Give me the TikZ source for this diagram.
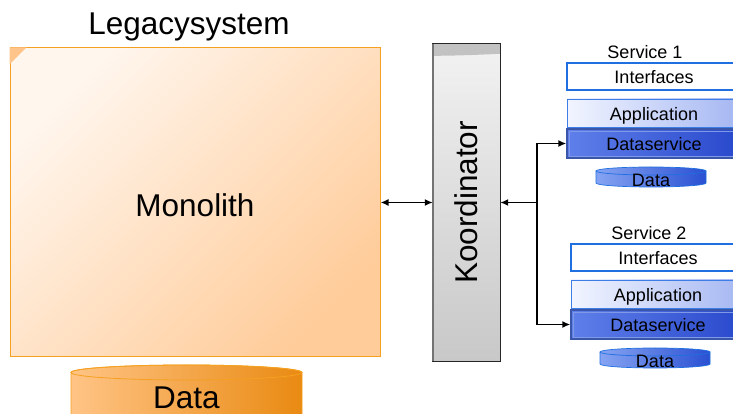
\documentclass[tikz,border=0pt]{standalone}
\usepackage{fontspec}
\setmainfont{Liberation Sans}
\usetikzlibrary{arrows.meta}
\usetikzlibrary{calc}

\definecolor{legacyline}{HTML}{F5A020}
\definecolor{legacylight}{HTML}{FFF6EE}
\definecolor{legacydark}{HTML}{FFCC9A}
\definecolor{legacycorner}{HTML}{FFC48A}
\definecolor{dataleft}{HTML}{FFC486}
\definecolor{dataright}{HTML}{E98A12}
\definecolor{kbandgray}{HTML}{C2C2C2}
\definecolor{ktop}{HTML}{F2F2F2}
\definecolor{kbottom}{HTML}{C8C8C8}
\definecolor{ifline}{HTML}{1F6FE0}
\definecolor{appline}{HTML}{3C7DE6}
\definecolor{appleft}{HTML}{F2F5FF}
\definecolor{appright}{HTML}{A4B6F2}
\definecolor{dsline}{HTML}{3A56A8}
\definecolor{dsinner}{HTML}{8098E8}
\definecolor{dsleft}{HTML}{5F7FEA}
\definecolor{dsright}{HTML}{2848CC}
\definecolor{diskleft}{HTML}{86A4F2}
\definecolor{diskright}{HTML}{2A50D2}

\tikzset{
  bigtext/.style={font=\fontsize{31.5}{36}\selectfont},
  smalltext/.style={font=\fontsize{18}{20}\selectfont},
  layer/.style={smalltext, minimum width=174pt, inner sep=0pt, text height=15.5pt, text depth=1pt},
  ifbox/.style={layer, draw=ifline, fill=white, line width=1.3pt, minimum height=27pt},
  appbox/.style={layer, draw=appline, left color=appleft, right color=appright, line width=0.9pt, minimum height=28pt},
  dsbox/.style={layer, draw=dsline, left color=dsleft, right color=dsright, line width=1.3pt, minimum height=29pt},
  dsrim/.style={dsinner, line width=0.6pt},
  tip/.style={-{Latex[length=8pt, width=7pt]}},
  link/.style={line width=1.8pt, {Latex[length=8pt, width=7pt]}-{Latex[length=8pt, width=7pt]}},
}

\begin{document}
\begin{tikzpicture}[x=1pt, y=1pt]
\useasboundingbox (0, 0) rectangle (733, 414);
\clip (0, 0) rectangle (733, 414);

% legacy side
\node (legacy) [bigtext] at (189, 387) {Legacysystem};
\node (mono) [draw=legacyline, line width=1pt, minimum width=370pt, minimum height=309pt,
    top color=legacylight, bottom color=legacydark, shading angle=45] at (195, 211.5) {};
\fill [legacycorner] (mono.north west) -- ($(mono.north west)+(17, 0)$)
    -- ($(mono.north west)+(0, -17)$) -- cycle;
\node (monotext) [bigtext] at (195, 209) {Monolith};

\shade [left color=dataleft, right color=dataright] (71, 41.5) -- (71, -10)
    arc [start angle=180, end angle=360, x radius=115.5, y radius=7.5]
    -- (302, 41.5) arc [start angle=0, end angle=180, x radius=115.5, y radius=7.5] -- cycle;
\draw [legacyline, line width=0.8pt] (71, -10) -- (71, 41.5)
    arc [start angle=180, end angle=0, x radius=115.5, y radius=7.5] -- (302, -10);
\draw [legacyline, line width=0.8pt] (186.5, 41.5) ellipse [x radius=115.5, y radius=7.5];
\node (bigdata) [bigtext] at (186.5, 16) {Data};

% coordinator
\node (koord) [minimum width=67pt, minimum height=317pt, inner sep=0pt,
    top color=ktop, bottom color=kbottom] at (466.5, 211.5) {};
\fill [kbandgray] (koord.north west) -- (koord.north east) -- ++(0, -10)
    .. controls +(-22, -1) and +(22, 0) .. ($(koord.north west)+(0, -12)$) -- cycle;
\draw [black!85, line width=1.1pt] (koord.north west) rectangle (koord.south east);
\draw [black!55, line width=1.4pt] (koord.north west) -- (koord.south west);
\node (koordtext) [bigtext, rotate=90] at (koord.center) {Koordinator};

\draw [link] (mono.east) -- (koord.west);

% service 1
\node (svc1) [smalltext] at (645, 362) {Service 1};
\node (if1) [ifbox] at (654, 337.5) {Interfaces};
\node (app1) [appbox] at (654, 301) {Application};
\node (ds1) [dsbox] at (654, 270.5) {Dataservice};
\draw [dsrim] ($(ds1.north west)+(2.5, -2.5)$) rectangle ($(ds1.south east)+(-2.5, 2.5)$);
\shade [left color=diskleft, right color=diskright] (596, 243) -- (596, 231)
    arc [start angle=180, end angle=360, x radius=55, y radius=4]
    -- (706, 243) arc [start angle=0, end angle=180, x radius=55, y radius=4] -- cycle;
\draw [ifline, line width=0.7pt] (596, 243) -- (596, 231)
    arc [start angle=180, end angle=360, x radius=55, y radius=4] -- (706, 243);
\draw [ifline, line width=0.7pt] (651, 243) ellipse [x radius=55, y radius=4];
\node (disk1) [smalltext] at (651, 233.5) {Data};

% service 2
\node (svc2) [smalltext] at (649, 181) {Service 2};
\node (if2) [ifbox] at (658, 156.5) {Interfaces};
\node (app2) [appbox] at (658, 120) {Application};
\node (ds2) [dsbox] at (658, 89.5) {Dataservice};
\draw [dsrim] ($(ds2.north west)+(2.5, -2.5)$) rectangle ($(ds2.south east)+(-2.5, 2.5)$);
\shade [left color=diskleft, right color=diskright] (600, 62) -- (600, 50)
    arc [start angle=180, end angle=360, x radius=55, y radius=4]
    -- (710, 62) arc [start angle=0, end angle=180, x radius=55, y radius=4] -- cycle;
\draw [ifline, line width=0.7pt] (600, 62) -- (600, 50)
    arc [start angle=180, end angle=360, x radius=55, y radius=4] -- (710, 62);
\draw [ifline, line width=0.7pt] (655, 62) ellipse [x radius=55, y radius=4];
\node (disk2) [smalltext] at (655, 52.5) {Data};

% links to the services
\coordinate (fork) at (537, 211.5);
\draw [link] (koord.east) -- (fork) |- (ds1.west);
\draw [line width=1.8pt, tip] (fork) |- (ds2.west);
\end{tikzpicture}
\end{document}
